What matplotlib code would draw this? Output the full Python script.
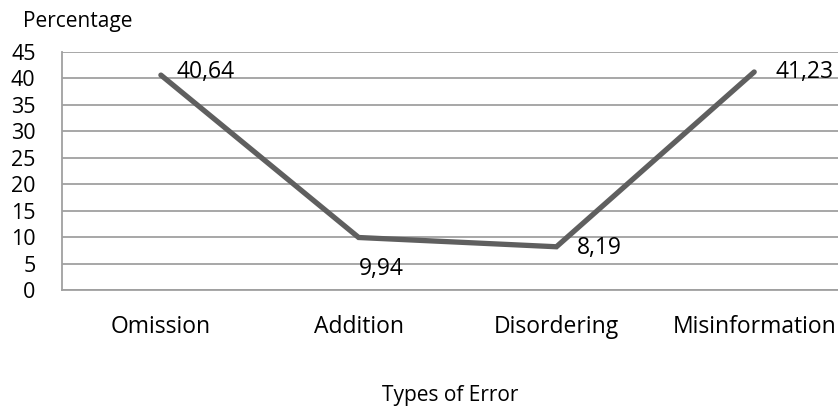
import matplotlib
matplotlib.use("Agg")
import matplotlib.pyplot as plt

# data
error_types = ["Omission", "Addition", "Disordering", "Misinformation"]
percentages = [40.64, 9.94, 8.19, 41.23]
value_labels = ["40,64", "9,94", "8,19", "41,23"]
y_ticks = [0, 5, 10, 15, 20, 25, 30, 35, 40, 45]

plt.rcParams["font.family"] = ["Open Sans", "DejaVu Sans"]

fig = plt.figure(figsize=(8.38, 4.08), dpi=100)
# plot area runs a bit past the right edge, like the original crop
ax = fig.add_axes([0.074, 0.289, 0.944, 0.5835])

positions = range(len(error_types))
ax.plot(positions, percentages, color="#5f5f5f", linewidth=3.8,
        solid_capstyle="round", solid_joinstyle="miter", zorder=3)

ax.set_xlim(-0.5, 3.5)
ax.set_ylim(0, 45)
ax.set_yticks(y_ticks)
ax.set_xticks(list(positions))
ax.set_xticklabels(error_types, fontsize=16.5)
ax.tick_params(axis="both", length=0, colors="black")
ax.tick_params(axis="y", pad=19, labelsize=15.5)
ax.tick_params(axis="x", pad=18)

ax.grid(axis="y", color="#a0a0a0", linewidth=1.3)
ax.set_axisbelow(True)
for side in ["top", "right"]:
    ax.spines[side].set_visible(False)
ax.spines["left"].set_color("#a0a0a0")
ax.spines["bottom"].set_color("#a0a0a0")
ax.spines["left"].set_linewidth(1.3)
ax.spines["bottom"].set_linewidth(1.3)

# data labels: right of point, except Addition which sits below
offsets = [(11, 2, "left", "center"), (0, -23, "left", "center"),
           (15, -1, "left", "center"), (15, 0, "left", "center")]
for i, (val, lab) in enumerate(zip(percentages, value_labels)):
    dx, dy, ha, va = offsets[i]
    ax.annotate(lab, (i, val), xytext=(dx, dy), textcoords="offset points",
                ha=ha, va=va, fontsize=16.5)

fig.text(23 / 838, 1 - 21 / 408, "Percentage", fontsize=15, va="center", ha="left")
fig.text(450 / 838, 1 - 395 / 408, "Types of Error", fontsize=15, va="center", ha="center")

fig.savefig("out.png", dpi=100)
